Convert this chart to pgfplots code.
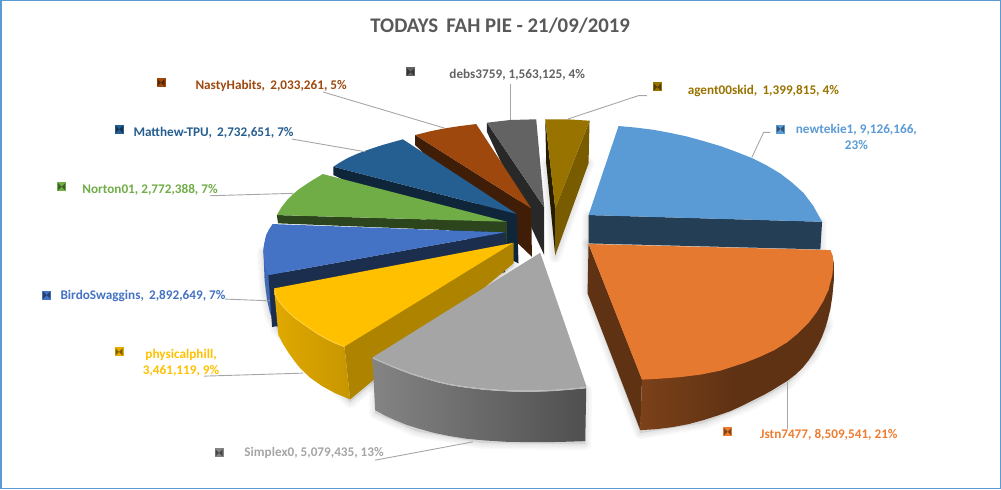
\documentclass[border=0pt]{standalone}
\usepackage{pgfplots}
\pgfplotsset{compat=1.18}
\usepackage{fontspec}
\setmainfont{Carlito}

\definecolor{cNew}{HTML}{5B9BD5}
\definecolor{cJstn}{HTML}{ED7D31}
\definecolor{cSimp}{HTML}{A5A5A5}
\definecolor{cPhys}{HTML}{FFC000}
\definecolor{cBird}{HTML}{4472C4}
\definecolor{cNort}{HTML}{70AD47}
\definecolor{cMatt}{HTML}{255E91}
\definecolor{cNast}{HTML}{9E480E}
\definecolor{cDebs}{HTML}{636363}
\definecolor{cAgen}{HTML}{997300}

% little bevelled legend key
\pgfdeclareplotmark{keymark}{%
  \pgfpathrectangle{\pgfpoint{-4.5pt}{-4.5pt}}{\pgfpoint{9pt}{9pt}}%
  \pgfusepathqfill
  \pgfsetfillopacity{0.45}\pgfsetfillcolor{black}%
  \pgfpathmoveto{\pgfpoint{-3.5pt}{-3.5pt}}\pgfpathlineto{\pgfpoint{0pt}{0pt}}\pgfpathlineto{\pgfpoint{-3.5pt}{3.5pt}}\pgfpathclose
  \pgfpathmoveto{\pgfpoint{3.5pt}{-3.5pt}}\pgfpathlineto{\pgfpoint{0pt}{0pt}}\pgfpathlineto{\pgfpoint{3.5pt}{3.5pt}}\pgfpathclose
  \pgfusepathqfill
}
\tikzset{
  lead/.style={draw=black!35,line width=0.9pt,no marks},
  lab/.style={font=\bfseries\fontsize{13.2}{15}\selectfont,inner sep=0pt,anchor=center,align=center},
  shad/.style={draw=black,fill=black,no marks,opacity=0.025,line join=round},
}
\newcommand{\key}[3]{\addplot[only marks,mark=keymark,color=#1] coordinates {(#2,#3)};}
% one ring of the soft shadow
\newcommand{\shadows}[1]{%
\addplot[shad,line width=#1] coordinates {(546,163) (555,257) (588,163)} --cycle;
\addplot[shad,line width=#1] coordinates {(263,252) (265,290) (270,315) (277,330) (350,402) (513,266) (513,243)} --cycle;
\addplot[shad,line width=#1] coordinates {(375,413) (416,431) (483,443) (585,444) (586,390) (375,360)} --cycle;
\addplot[shad,line width=#1] coordinates {(587,293) (640,433) (703,423) (753,403) (787,384) (813,356) (827,326) (820,280) (587,244)} --cycle;
\addplot[shad,line width=#1] coordinates {(588,216) (588,244) (820,250) (820,222)} --cycle;
}

\begin{document}
\begin{tikzpicture}
\begin{axis}[
    scale only axis,
    width=1001pt,
    height=489pt,
    xmin=0, xmax=1001,
    ymin=0, ymax=489,
    y dir=reverse,
    axis lines=none,
    clip=true,
]

% frame
\addplot[draw=cNew,line width=1.5pt,no marks] coordinates {(0.8,0.8) (999.8,0.8) (999.8,488.2) (0.8,488.2)} --cycle;

% soft shadows
\shadows{3pt}
\shadows{6pt}
\shadows{9pt}
\shadows{12pt}

% agent00skid
\addplot[fill=black!75!cAgen,draw=none,no marks] coordinates {(545,119.3) (546,163.3) (555,255) (555,208.3)} --cycle;
\addplot[fill=black!20!cAgen,draw=none,no marks] coordinates {(589.3,120.7) (588.3,163.3) (555,255) (555,208.3)} --cycle;
\addplot[fill=cAgen,draw=none,no marks] coordinates {(545,119.3) (567,119.3) (589.3,120.7) (555,208.3)} --cycle;

% debs3759
\addplot[fill=black!60!cDebs,draw=none,no marks] coordinates {(486.7,122.7) (486.7,131.7) (544,255) (544,207.3)} --cycle;
\addplot[fill=cDebs,draw=none,no marks] coordinates {(486.7,122.7) (510,120) (536,119.3) (544,207.3)} --cycle;

% NastyHabits
\addplot[fill=black!60!cNast,draw=none,no marks] coordinates {(415,135) (415,145) (531.7,256.7) (531,208.3)} --cycle;
\addplot[fill=cNast,draw=none,no marks] coordinates {(415,135) (430,131.3) (445,128.3) (460,126) (476,124) (531,208.3)} --cycle;

% Matthew-TPU
\addplot[fill=black!60!cMatt,draw=none,no marks] coordinates {(333.3,166.7) (333.3,175) (518.3,263.3) (516.7,214)} --cycle;
\addplot[fill=cMatt,draw=none,no marks] coordinates {(333.3,166.7) (340,162.3) (347,158.3) (356,154.2) (365,150.8) (374,147.7) (383,144.8) (393,142) (402.7,139.3) (516.7,214)} --cycle;

% Norton01
\addplot[fill=black!60!cNort,draw=none,no marks] coordinates {(276.7,215) (278,223.3) (505,232.3) (505.5,243) (506.7,243) (506.7,221.7)} --cycle;
\addplot[fill=cNort,draw=none,no marks] coordinates {(276.7,215) (281.5,207) (287,200) (293,194) (300,188.3) (311,181) (322.7,174) (506.7,221.7)} --cycle;

% BirdoSwaggins
\addplot[fill=cBird!92!black,draw=none,no marks] coordinates {(272.7,224) (266,235) (263.3,250) (264.5,280) (267,300) (270,313) (276.7,326.7) (285,326) (285,270)} --cycle;
\addplot[fill=black!60!cBird,draw=none,no marks] coordinates {(268.3,275) (272,327) (505,272) (505,232.3)} --cycle;
\addplot[fill=cBird,draw=none,no marks] coordinates {(505,232.3) (272.7,224) (268.5,230) (265.5,238) (263.8,245) (263.3,252) (264.2,260) (265.8,268) (268.3,275)} --cycle;

% physicalphill
\addplot[fill=cPhys!68!black,draw=none,no marks] coordinates {(513.3,242.7) (513.3,263.3) (350,399.3) (344.3,346)} --cycle;
\addplot[shade,left color=cPhys!88!black,right color=cPhys!78!black,draw=none,no marks] coordinates {(274,288.3) (278.3,335) (283,344) (288,352) (294,360.5) (300,368) (310,377.5) (322,386) (335,393) (350,399.3) (344.3,346.5) (335,343) (327,339) (318,334) (310,328.5) (302,323) (295,318) (289,312.5) (283.3,306.7) (279,301.5) (276,296)} --cycle;
\addplot[fill=cPhys,draw=none,no marks] coordinates {(513.3,242.7) (274,288.3) (276,296) (279,301.5) (283.3,306.7) (289,312.5) (295,318) (302,323) (310,328.5) (318,334) (327,339) (335,343) (344.3,346.5)} --cycle;
\addplot[draw=cPhys!75!white,line width=0.9pt,no marks] coordinates {(274.5,290) (276,296) (279,301.5) (283.3,306.7) (289,312.5) (295,318) (302,323) (310,328.5) (318,334) (327,339) (335,343) (344.3,346.5)};

% Simplex0
\addplot[shade,left color=cSimp!80!black,right color=cSimp!48!black,draw=none,no marks] coordinates {(372.3,357.3) (375,410) (385,415.5) (395,420) (406,424.5) (416.7,428) (433,432.5) (450,436) (466,438.5) (483,440.2) (506,441.6) (530,442) (558,441.8) (585,441) (586,388) (568,389.7) (550,391) (533,391.5) (516.7,391.5) (500,390.8) (483,389.5) (466,387.5) (450,385) (437,382) (425,378.5) (412,374.5) (400,370) (386,364.5)} --cycle;
\addplot[fill=cSimp,draw=none,no marks] coordinates {(540,252.7) (586,385.7) (586,387) (568,388.7) (550,390) (533,390.5) (516.7,390.5) (500,389.8) (483,388.5) (466,386.5) (450,384) (437,381) (425,377.5) (412,373.5) (400,369) (386,363.5) (372.3,357.3)} --cycle;
\addplot[draw=black!27,line width=1.2pt,no marks] coordinates {(373,358) (386,363.8) (400,369.5) (412,374) (425,378) (437,381.5) (450,384.5) (466,387) (483,389) (500,390.3) (516.7,391) (533,391) (550,390.5) (568,389.2) (586,387.5)};

% Jstn7477
\addplot[fill=black!60!cJstn,draw=none,no marks] coordinates {(588.3,244) (587.3,293.3) (640,430) (641.7,379)} --cycle;
\addplot[shade,left color=black!48!cJstn,right color=black!60!cJstn,middle color=black!60!cJstn,draw=none,no marks] coordinates {(641.7,379) (640,430) (656,429) (672,427) (688,424) (703,420) (717,415.5) (730,411) (742,405.5) (753,400) (763,395) (772,390) (780,385) (786.7,381) (795,374.5) (802,368) (808,360.5) (813,353) (818,344.5) (821.5,337) (824.5,329) (827,321) (830,309) (832,296) (833.5,280) (833.5,263) (830,250) (828,290) (787,342) (720,370)} --cycle;
\addplot[fill=cJstn!97!black,draw=none,no marks] coordinates {(588.3,244) (830,250) (832.5,256) (833,264) (832,275) (828,290) (823,301) (816,312.5) (808,323) (798,333) (787,342) (774,350) (760,356.5) (745,362.5) (720,370.5) (700,374.5) (680,377) (660,378.5) (641.7,379.5)} --cycle;

% newtekie1
\addplot[fill=black!60!cNew,draw=none,no marks] coordinates {(588.3,215) (588.3,243.3) (820,249.3) (821.7,221.7)} --cycle;
\addplot[fill=cNew,draw=none,no marks] coordinates {(588.3,215) (618.3,126) (635.8,127.6) (653.3,129.8) (670,132.9) (686.7,136.5) (703.3,141.1) (720,146) (735.8,151.8) (751.7,158) (766,165.2) (780,173.5) (791.8,182.6) (803.3,193) (813,206) (821.7,221.7)} --cycle;

% leader lines
\addplot[lead] coordinates {(323,92) (445,128.3)};
\addplot[lead] coordinates {(291.7,139) (365,151.7)};
\addplot[lead] coordinates {(210,195.7) (293,193.3)};
\addplot[lead] coordinates {(225,299) (270,300.7)};
\addplot[lead] coordinates {(204,376) (303,373)};
\addplot[lead] coordinates {(375,460) (472.7,441.7)};
\addplot[lead] coordinates {(787.3,381.7) (787.3,429.3)};
\addplot[lead] coordinates {(751.7,157) (763.3,132.3) (770,132.3)};
\addplot[lead] coordinates {(567.7,119) (638,95.7) (646.7,95.7)};
\addplot[lead] coordinates {(510.5,84) (510.5,120)};

% legend keys
\key{cNew}{780}{129}
\key{cJstn}{727.3}{431.7}
\key{cSimp!80!black}{219}{452.7}
\key{cPhys!90!black}{119}{351.7}
\key{cBird}{46.7}{295}
\key{cNort}{61.7}{186.7}
\key{cMatt}{119.3}{129.3}
\key{cNast}{161}{82.7}
\key{cDebs}{410.5}{72}
\key{cAgen}{657}{87}

% texts
\node[font=\bfseries\fontsize{20.8}{24}\selectfont,text=black!65,inner sep=0pt] at (axis cs:500,26) {TODAYS\, FAH PIE - 21/09/2019};
\node[lab,text=cNew] at (axis cs:856,137) {newtekie1, 9,126,166,\\[1pt]23\%};
\node[lab,text=cJstn] at (axis cs:828.5,435) {Jstn7477, 8,509,541, 21\%};
\node[lab,text=cSimp] at (axis cs:314,453) {Simplex0, 5,079,435, 13\%};
\node[lab,text=cPhys] at (axis cs:181,363) {physicalphill,\\[1pt]3,461,119, 9\%};
\node[lab,text=cBird] at (axis cs:143,295.7) {BirdoSwaggins,\, 2,892,649, 7\%};
\node[lab,text=cNort] at (axis cs:150,190) {Norton01, 2,772,388, 7\%};
\node[lab,text=cMatt] at (axis cs:213.5,132.7) {Matthew-TPU,\, 2,732,651, 7\%};
\node[lab,text=cNast] at (axis cs:271,86) {NastyHabits,\, 2,033,261, 5\%};
\node[lab,text=cDebs] at (axis cs:517,75) {debs3759, 1,563,125, 4\%};
\node[lab,text=cAgen] at (axis cs:763,91) {agent00skid,\, 1,399,815, 4\%};

\end{axis}
\end{tikzpicture}
\end{document}
